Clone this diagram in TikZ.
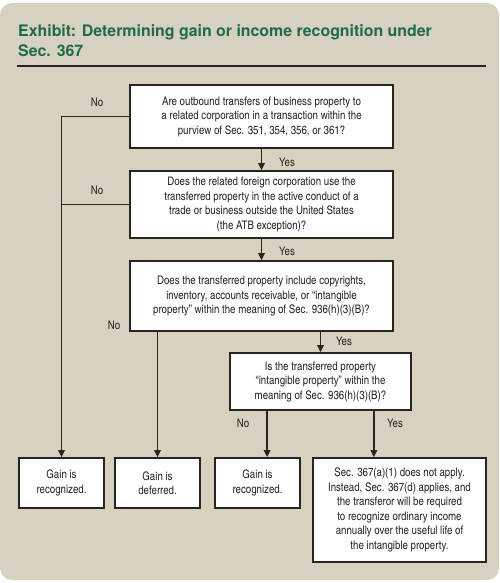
\documentclass[tikz,border=0pt]{standalone}
\usepackage{fontspec}
\setmainfont{texgyreheroscn}[Extension=.otf, UprightFont=*-regular, BoldFont=*-bold]
\newfontfamily\titlefont{TeX Gyre Heros}
\usetikzlibrary{arrows.meta}
\definecolor{panel}{HTML}{D7D1C0}
\definecolor{exgreen}{HTML}{1E6B48}
\definecolor{ink}{HTML}{2A2420}

\begin{document}
\begin{tikzpicture}[x=1pt,y=-1pt,
  box/.style={draw=ink,line width=1.7pt,fill=white,align=center,inner sep=2pt,
    font=\fontsize{11.8}{14.5}\selectfont,text=ink},
  lab/.style={font=\fontsize{11.8}{14}\selectfont,text=ink},
  line/.style={draw=ink,line width=1.4pt},
  arr/.style={line,-{Triangle[length=7pt,width=6.5pt]}}]
\useasboundingbox (0,0) rectangle (499,583);
\fill[panel,rounded corners=12pt] (0,3) rectangle (499,580);

% title
\node[anchor=base west,text=exgreen,font=\titlefont\bfseries\fontsize{15.9}{20}\selectfont,inner sep=0pt] (title1) at (18,37) {Exhibit: Determining gain or income recognition under};
\node[anchor=base west,text=exgreen,font=\titlefont\bfseries\fontsize{15.9}{20}\selectfont,inner sep=0pt] (title2) at (18,57) {Sec. 367};
\draw[ink,line width=1.5pt] (17,66) -- (486,66);

% questions
\node[box,minimum width=263pt,minimum height=63pt] (q1) at (261.5,116.5) {Are outbound transfers of business property to\\a related corporation in a transaction within the\\purview of Sec. 351, 354, 356, or 361?};
\node[box,minimum width=263pt,minimum height=67pt] (q2) at (261.5,204.5) {Does the related foreign corporation use the\\transferred property in the active conduct of a\\trade or business outside the United States\\(the ATB exception)?};
\node[box,minimum width=263pt,minimum height=70pt] (q3) at (261.5,296) {Does the transferred property include copyrights,\\inventory, accounts receivable, or “intangible\\property” within the meaning of Sec. 936(h)(3)(B)?};
\node[box,minimum width=181pt,minimum height=57pt] (q4) at (320.5,381.5) {Is the transferred property\\“intangible property” within the\\meaning of Sec. 936(h)(3)(B)?};

% results
\node[box,minimum width=85pt,minimum height=50pt] (r1) at (61.5,483) {Gain is\\recognized.};
\node[box,minimum width=85pt,minimum height=50pt] (r2) at (157.5,483) {Gain is\\deferred.};
\node[box,minimum width=85pt,minimum height=50pt] (r3) at (257.5,483) {Gain is\\recognized.};
\node[box,minimum width=173pt,minimum height=104pt] (r4) at (399.5,510) {Sec. 367(a)(1) does not apply.\\Instead, Sec. 367(d) applies, and\\the transferor will be required\\to recognize ordinary income\\annually over the useful life of\\the intangible property.};

% yes path
\draw[arr] (q1) -- (q2);
\draw[arr] (q2) -- (q3);
\draw[arr] (q3.south -| q4.north) -- (q4.north);
\draw[arr] ([xshift=-38pt]q4.south east) -- ([xshift=-38pt]q4.south east |- r4.north);

% no path
\draw[arr] (q1.west) -| (r1.north);
\draw[line] (q2.west) -- (q2.west -| r1.north);
\draw[arr] (q3.south -| r2.north) -- (r2.north);
\draw[arr] ([xshift=38pt]q4.south west) -- ([xshift=38pt]q4.south west |- r3.north);

% labels
\node[lab] (no1) at (97,102) {No};
\node[lab] (no2) at (97,190) {No};
\node[lab] (no3) at (114,325) {No};
\node[lab] (no4) at (243,423) {No};
\node[lab] (yes1) at (287,162) {Yes};
\node[lab] (yes2) at (287,251) {Yes};
\node[lab] (yes3) at (344,341) {Yes};
\node[lab] (yes4) at (395,423) {Yes};
\end{tikzpicture}
\end{document}
